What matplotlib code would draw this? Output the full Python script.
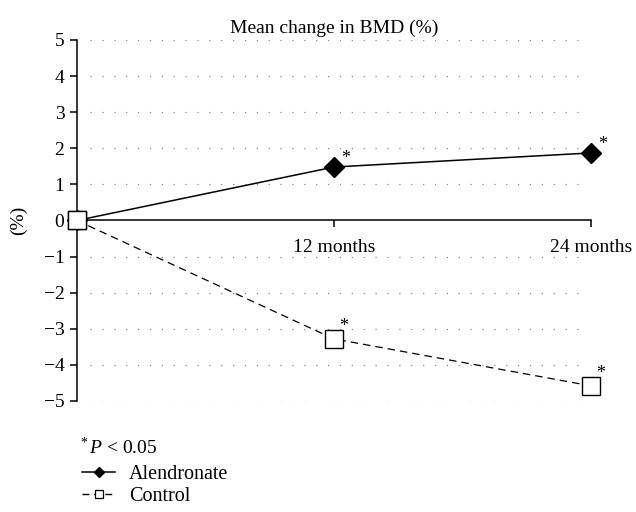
"""Mean change in BMD"""

import matplotlib
matplotlib.use("Agg")
import matplotlib.pyplot as plt
from matplotlib.lines import Line2D

plt.rcParams["font.family"] = ["Liberation Serif", "DejaVu Serif"]
plt.rcParams["font.size"] = 14
plt.rcParams["mathtext.fontset"] = "custom"
plt.rcParams["mathtext.rm"] = "Liberation Serif"
plt.rcParams["mathtext.it"] = "Liberation Serif:italic"

# data
months = [0, 12, 24]
month_labels = ["12 months", "24 months"]
alendronate = [0.0, 1.48, 1.87]
control = [0.0, -3.28, -4.58]
yticks = [-5, -4, -3, -2, -1, 0, 1, 2, 3, 4, 5]


def main():
    fig = plt.figure(figsize=(6.36, 5.12), dpi=100)
    ax = fig.add_axes([0.121, 0.2168, 0.808, 0.7052])

    # dotted grid, skip zero (the x axis sits there)
    for y in yticks:
        if y != 0:
            ax.plot([0.6, 23.7], [y, y], color="#8a8a8a", lw=0.9,
                    linestyle=(0, (1, 8.5)), zorder=1)

    ax.plot(months, control, color="black", lw=0.9, linestyle=(0, (6, 4)),
            marker="s", ms=13, mfc="white", mec="black", mew=1.0,
            clip_on=False, zorder=3)
    ax.plot(months, alendronate, color="black", lw=1.1,
            marker="D", ms=10, mfc="black", mec="black",
            clip_on=False, zorder=4)
    # start point drawn as square on top
    ax.plot(months[:1], control[:1], linestyle="none", marker="s", ms=13,
            mfc="white", mec="black", mew=1.0, clip_on=False, zorder=5)

    # significance stars
    for x, y in zip(months[1:], alendronate[1:]):
        ax.annotate("*", (x, y), xytext=(5, 3), textcoords="offset points",
                    fontsize=13)
    for x, y in zip(months[1:], control[1:]):
        ax.annotate("*", (x, y), xytext=(4, 6), textcoords="offset points",
                    fontsize=13)

    ax.set_xlim(0, 24)
    ax.set_ylim(-5, 5)
    ax.set_yticks(yticks)
    ax.set_xticks(months[1:])
    ax.set_xticklabels(month_labels)

    ax.spines["top"].set_visible(False)
    ax.spines["right"].set_visible(False)
    ax.spines["bottom"].set_position(("data", 0))
    ax.spines["left"].set_linewidth(1.1)
    ax.spines["bottom"].set_linewidth(1.1)
    ax.tick_params(axis="y", direction="out", length=5, width=1.1, pad=4)
    ax.tick_params(axis="x", direction="out", length=5, width=1.1, pad=8)

    ax.set_title("Mean change in BMD (%)", fontsize=14, pad=5)
    ax.set_ylabel("(%)", labelpad=12)

    # key below the chart
    fig.text(0.122, 0.113, "$^*P$ < 0.05", fontsize=14)
    handles = [
        Line2D([], [], color="black", lw=1.1, marker="D", ms=5, mfc="black"),
        Line2D([], [], color="black", lw=1.0, linestyle=(0, (5, 3.2)),
               marker="s", ms=6, mfc="white", mec="black", mew=0.9),
    ]
    fig.legend(handles, ["Alendronate", "Control"], loc="upper left",
               bbox_to_anchor=(0.117, 0.107), frameon=False,
               handlelength=1.6, handletextpad=0.7, labelspacing=0.12,
               borderaxespad=0, fontsize=14.5)

    fig.savefig("out.png", dpi=100)


if __name__ == "__main__":
    main()
